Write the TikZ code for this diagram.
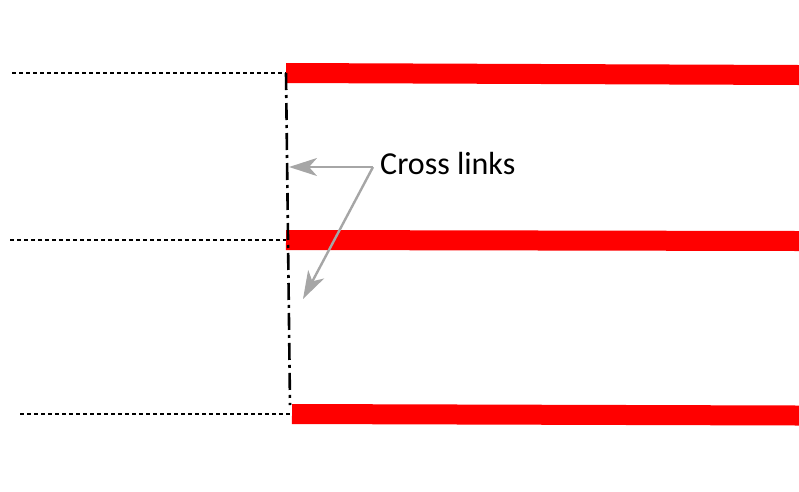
\documentclass[tikz,border=0pt]{standalone}
\usepackage{fontspec}
\setmainfont{Carlito}
\usetikzlibrary{arrows.meta,positioning,calc}
\definecolor{barred}{HTML}{FF0000}
\definecolor{linkgray}{HTML}{A6A6A6}
\tikzset{
  strand/.style={draw=barred,line width=20pt},
  tether/.style={draw=black,line width=1.7pt,dash pattern=on 4pt off 3pt},
  linkline/.style={draw=black,line width=2.6pt,dash pattern=on 17pt off 5pt on 3pt off 5pt},
  linkarrow/.style={-{Stealth[length=28pt,width=18pt,inset=8pt]},draw=linkgray,fill=linkgray,line width=2.4pt}
}
\begin{document}
\begin{tikzpicture}[x=1pt,y=-1pt]
  \useasboundingbox (0,0) rectangle (799,491);
  % strand ends
  \coordinate (s1a) at (286,73);  \coordinate (s1b) at (799,75);
  \coordinate (s2a) at (286,240); \coordinate (s2b) at (799,241);
  \coordinate (s3a) at (292,414); \coordinate (s3b) at (799,415.5);
  \coordinate (t1) at (12,73);
  \coordinate (t2) at (10,240);
  \coordinate (t3) at (20,414);
  \coordinate (c3) at (290,405);
  \draw[tether] (t1)--(s1a);
  \draw[tether] (t2)--(s2a);
  \draw[tether] (t3)--(s3a);
  \draw[strand] (s1a)--(s1b);
  \draw[strand] (s2a)--(s2b);
  \draw[strand] (s3a)--(s3b);
  \draw[linkline] (s1a)--(c3);
  % label
  \node[font=\fontsize{32}{38}\selectfont,anchor=west,inner sep=0pt] (xlinks) at (380,164) {Cross links};
  \coordinate (fork) at (373,167);
  \coordinate (tipa) at (289,167);
  \coordinate (tipb) at (303,299);
  \draw[linkarrow] (fork)--(tipa);
  \draw[linkarrow] (fork)--(tipb);
\end{tikzpicture}
\end{document}
